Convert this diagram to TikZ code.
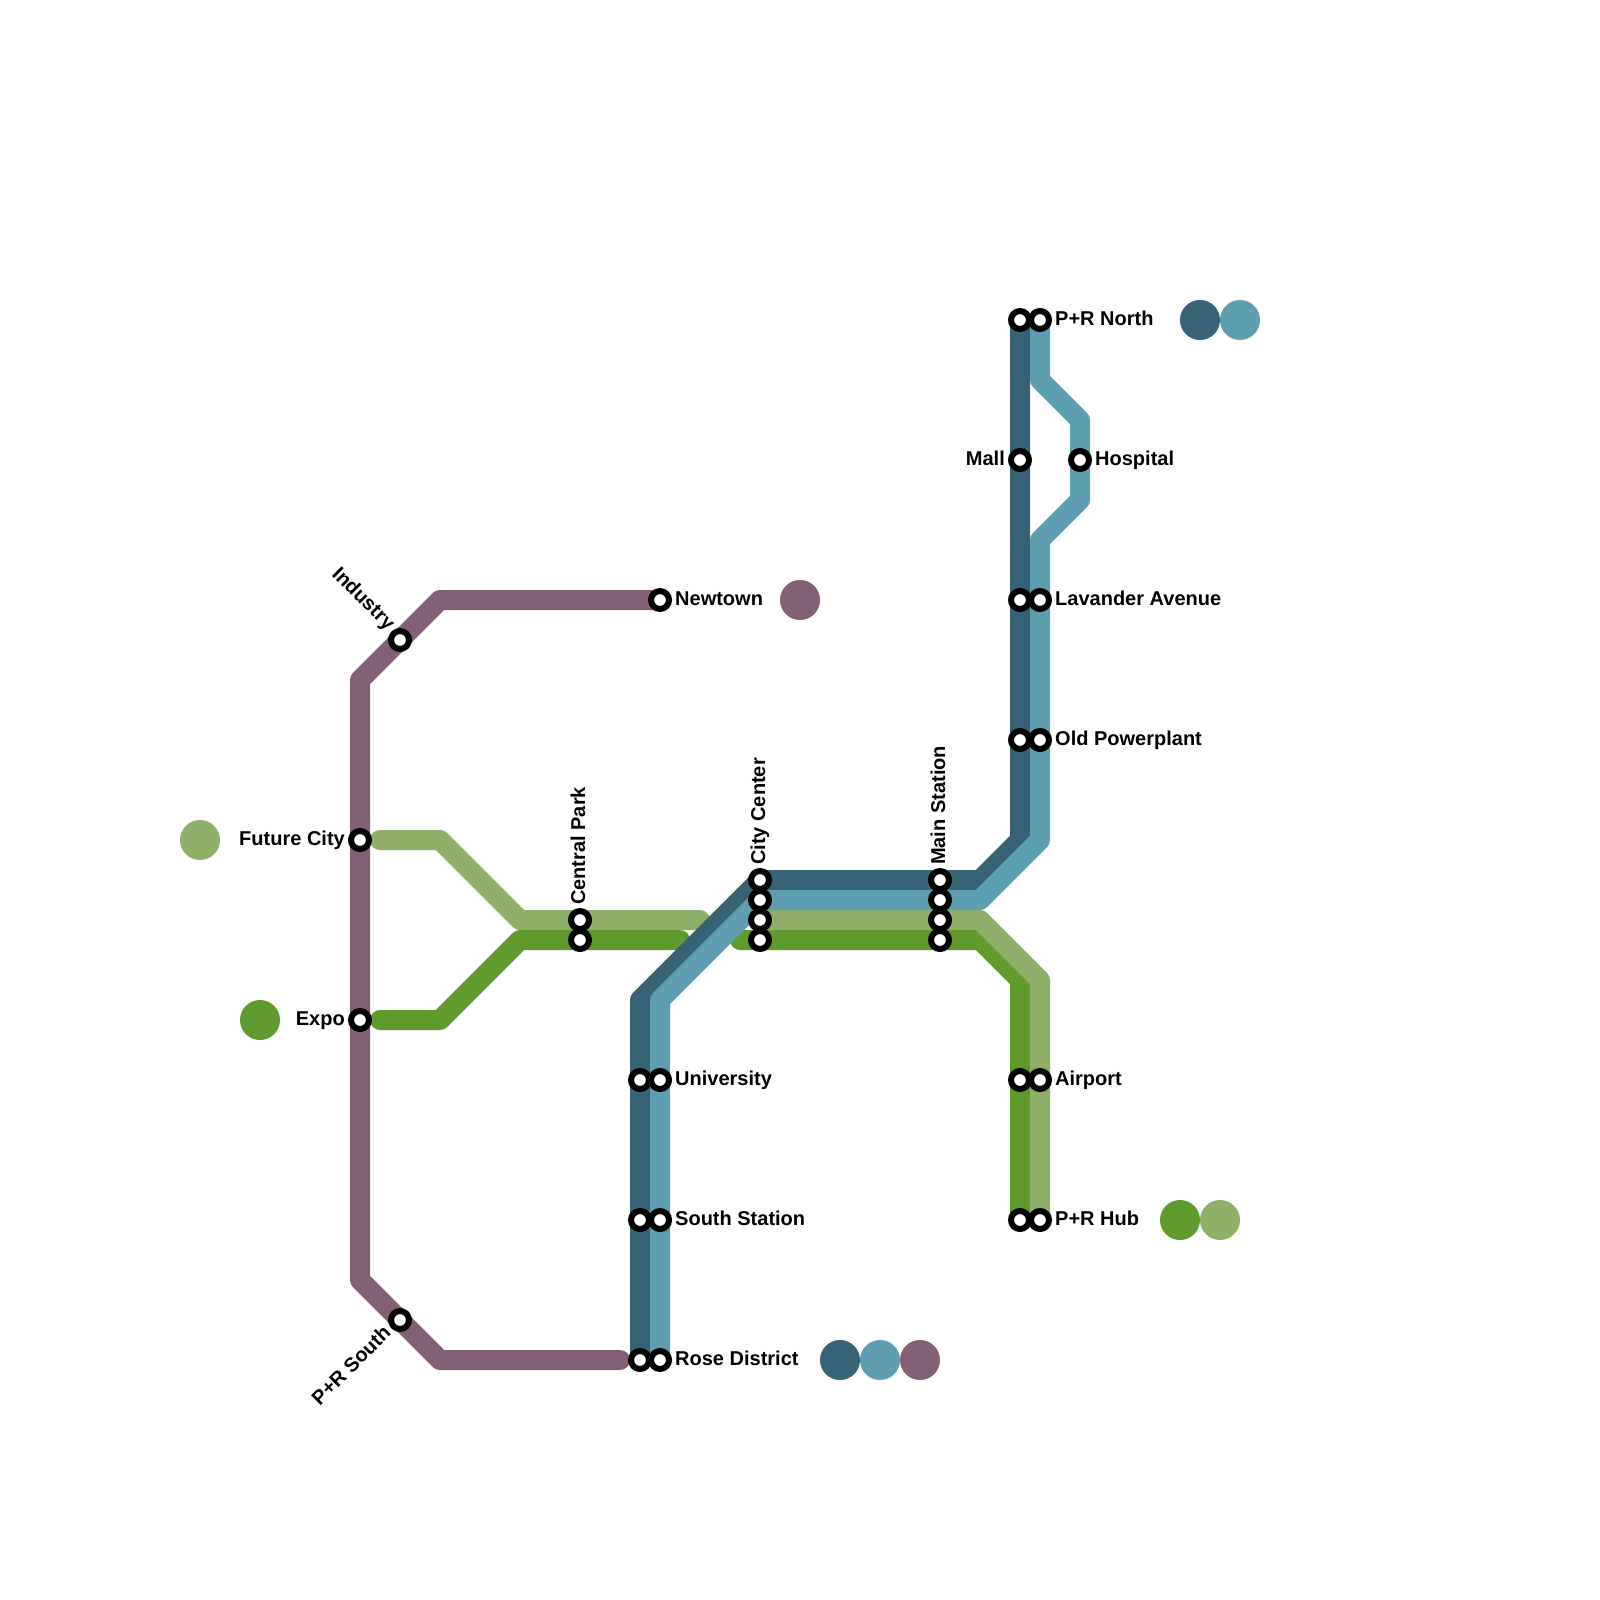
\documentclass[tikz,border=0pt]{standalone}
\usepackage{fontspec}
\setmainfont{Liberation Sans}
\definecolor{cdark}{RGB}{53,98,116}
\definecolor{cteal}{RGB}{93,159,177}
\definecolor{clight}{RGB}{142,175,104}
\definecolor{cgreen}{RGB}{95,155,44}
\definecolor{cpurple}{RGB}{130,95,116}
\tikzset{
  metro/.style={line width=20pt,line join=round,line cap=round},
  stn/.style={circle,draw=black,fill=white,line width=6pt,minimum size=18pt,inner sep=0pt,outer sep=0pt},
  dot/.style={circle,minimum size=40pt,inner sep=0pt,outer sep=0pt,fill=#1},
  lbl/.style={font=\fontsize{20}{22}\selectfont\bfseries,inner sep=0pt,text=black},
  lr/.style={lbl,anchor=base west},
  ll/.style={lbl,anchor=base east}
}
\begin{document}
\begin{tikzpicture}[x=1pt,y=-1pt]
\useasboundingbox (0,0) rectangle (1600,1600);
% bends
\foreach \n/\x/\y in {
 pa/440/600,pb/360/680,pc/360/1280,pd/440/1360,pe/620/1360,
 la/380/840,lb/440/840,lc/520/920,ld/700/920,le/760/920,lf/980/920,lg/1040/980,lh/1040/1220,
 ga/380/1020,gb/440/1020,gc/520/940,gd/680/940,ge/740/940,gf/980/940,gg/1020/980,gh/1020/1220,
 da/1020/320,db/1020/840,dc/980/880,dd/760/880,de/640/1000,df/640/1360,
 ta/1040/320,tb/1040/380,tc/1080/420,td/1080/500,te/1040/540,tf/1040/840,tg/980/900,th/760/900,ti/660/1000,tj/660/1360,
 pn/660/600}
 {\coordinate (\n) at (\x,\y);}
% lines
\draw[metro,cpurple] (pn)--(pa)--(pb)--(pc)--(pd)--(pe);
\draw[metro,clight] (la)--(lb)--(lc)--(ld);
\draw[metro,cgreen] (ga)--(gb)--(gc)--(gd);
\draw[metro,cgreen] (ge)--(gf)--(gg)--(gh);
\draw[metro,clight] (le)--(lf)--(lg)--(lh);
\draw[metro,cdark] (da)--(db)--(dc)--(dd)--(de)--(df);
\draw[metro,cteal] (ta)--(tb)--(tc)--(td)--(te)--(tf)--(tg)--(th)--(ti)--(tj);
% line dots
\node[dot=clight] (d1) at (200,840) {};
\node[dot=cgreen] (d2) at (260,1020) {};
\node[dot=cpurple] (d3) at (800,600) {};
\node[dot=cdark] (d4) at (840,1360) {};
\node[dot=cteal] (d5) at (880,1360) {};
\node[dot=cpurple] (d6) at (920,1360) {};
\node[dot=cgreen] (d7) at (1180,1220) {};
\node[dot=clight] (d8) at (1220,1220) {};
\node[dot=cdark] (d9) at (1200,320) {};
\node[dot=cteal] (d10) at (1240,320) {};
% stations
\foreach \n/\x/\y in {
 s1/360/840,s2/360/1020,s3/400/640,s4/400/1320,s5/660/600,
 s6/580/920,s7/580/940,
 s8/760/880,s9/760/900,s10/760/920,s11/760/940,
 s12/940/880,s13/940/900,s14/940/920,s15/940/940,
 s16/640/1080,s17/660/1080,s18/640/1220,s19/660/1220,s20/640/1360,s21/660/1360,
 s22/1020/1080,s23/1040/1080,s24/1020/1220,s25/1040/1220,
 s26/1020/740,s27/1040/740,s28/1020/600,s29/1040/600,
 s30/1020/460,s31/1080/460,s32/1020/320,s33/1040/320}
 {\node[stn] (\n) at (\x,\y) {};}
% labels
\node[ll] (t1) at (345,845) {Future City};
\node[ll] (t2) at (345,1025) {Expo};
\node[ll] (t3) at (1005,465) {Mall};
\node[lr] (t4) at (675,605) {Newtown};
\node[lr] (t5) at (675,1085) {University};
\node[lr] (t6) at (675,1225) {South Station};
\node[lr] (t7) at (675,1365) {Rose District};
\node[lr] (t8) at (1055,1085) {Airport};
\node[lr] (t9) at (1055,1225) {P+R Hub};
\node[lr] (t10) at (1055,745) {Old Powerplant};
\node[lr] (t11) at (1055,605) {Lavander Avenue};
\node[lr] (t12) at (1095,465) {Hospital};
\node[lr] (t13) at (1055,325) {P+R North};
\node[lbl,anchor=base west,rotate=90] (t14) at (585,905) {Central Park};
\node[lbl,anchor=base west,rotate=90] (t15) at (765,865) {City Center};
\node[lbl,anchor=base west,rotate=90] (t16) at (945,865) {Main Station};
\node[lbl,anchor=base east,rotate=-45] (t17) at (387,631) {Industry};
\node[lbl,anchor=base east,rotate=45] (t18) at (392,1334) {P+R South};
\end{tikzpicture}
\end{document}
